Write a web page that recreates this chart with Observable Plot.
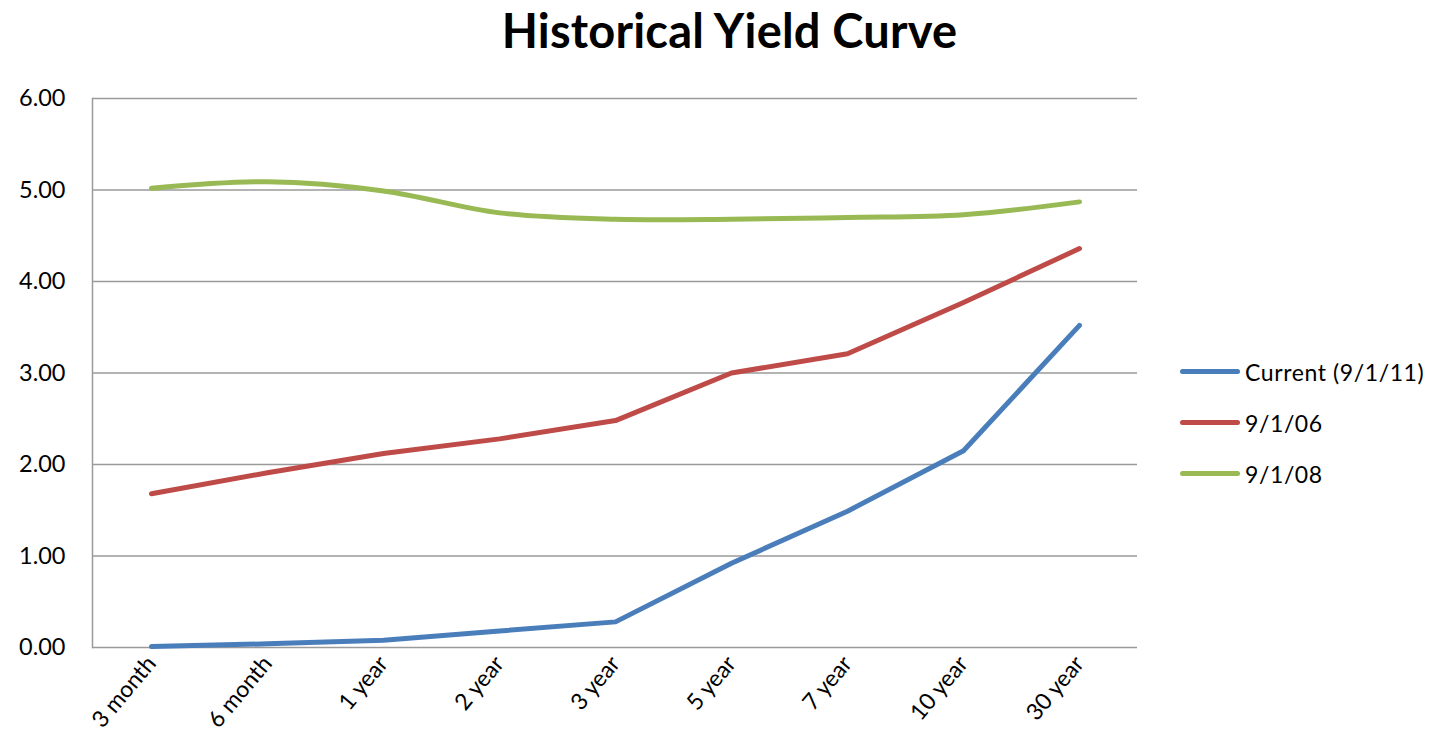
<!DOCTYPE html>
<html>
<head>
<meta charset="utf-8">
<script src="https://cdn.jsdelivr.net/npm/d3@7"></script>
<script src="https://cdn.jsdelivr.net/npm/@observablehq/plot@0.6"></script>
<style>
  body { margin: 0; background: #fff; font-family: Lato, "Open Sans", sans-serif; }
  #wrap { position: relative; width: 1449px; height: 755px; }
  #title { position: absolute; left: 0; top: 2px; width: 1459px; text-align: center; font-size: 47px; font-weight: bold; color: #000; letter-spacing: 0.2px; }
  #chart { position: absolute; left: 0; top: 70px; }
  #legend { position: absolute; left: 1180px; top: 346px; font-size: 23px; color: #000; letter-spacing: 0.6px; }
  .item { display: flex; align-items: center; height: 51px; }
  .sw { width: 60px; height: 5px; border-radius: 3px; margin-right: 5px; }
</style>
</head>
<body>
<div id="wrap">
  <div id="title">Historical Yield Curve</div>
  <div id="chart"></div>
  <div id="legend"></div>
</div>
<script>
const maturities = ["3 month", "6 month", "1 year", "2 year", "3 year", "5 year", "7 year", "10 year", "30 year"];
const seriesNames = ["Current (9/1/11)", "9/1/06", "9/1/08"];
const seriesColors = ["#4a7ebb", "#be4b48", "#98b954"];
const current2011 = [0.01, 0.04, 0.08, 0.18, 0.28, 0.92, 1.49, 2.15, 3.52];
const sep2006 = [1.68, 1.91, 2.12, 2.28, 2.48, 3.00, 3.21, 3.77, 4.36];
const sep2008 = [5.02, 5.09, 4.99, 4.75, 4.68, 4.68, 4.70, 4.73, 4.87];
const yTicks = [0, 1, 2, 3, 4, 5, 6];

const seriesValues = [current2011, sep2006, sep2008];
const rows = [];
seriesValues.forEach((vals, si) => vals.forEach((v, i) => rows.push({series: seriesNames[si], maturity: maturities[i], value: v})));

const chart = Plot.plot({
  width: 1449,
  height: 685,
  marginTop: 28,
  marginBottom: 108,
  marginLeft: 92,
  marginRight: 312,
  style: { fontFamily: "Lato, 'Open Sans', sans-serif", fontSize: "22px", color: "#000", background: "#fff" },
  x: { type: "point", domain: maturities, padding: 0.5, label: null },
  y: { domain: [0, 6], label: null },
  color: { domain: seriesNames, range: seriesColors },
  marks: [
    Plot.gridY(yTicks, { stroke: "#9a9a9a", strokeOpacity: 1, strokeWidth: 1.5 }),
    Plot.frame({ anchor: "left", stroke: "#9a9a9a", strokeWidth: 1.5 }),
    Plot.axisY({ ticks: yTicks, tickFormat: d => d.toFixed(2), tickSize: 0, tickPadding: 27, fontSize: 23.5, label: null }),
    Plot.axisX({ tickSize: 0, tickRotate: -50, tickPadding: 12, fontSize: 23, label: null }),
    Plot.line(rows.filter(d => d.series === seriesNames[0]), { x: "maturity", y: "value", stroke: "series", strokeWidth: 5 }),
    Plot.line(rows.filter(d => d.series === seriesNames[1]), { x: "maturity", y: "value", stroke: "series", strokeWidth: 5 }),
    Plot.line(rows.filter(d => d.series === seriesNames[2]), { x: "maturity", y: "value", stroke: "series", strokeWidth: 5, curve: "catmull-rom" })
  ]
});
document.getElementById("chart").appendChild(chart);

const legend = document.getElementById("legend");
seriesNames.forEach((n, i) => {
  const it = document.createElement("div");
  it.className = "item";
  it.innerHTML = `<div class="sw" style="background:${seriesColors[i]}"></div><span>${n}</span>`;
  legend.appendChild(it);
});
</script>
</body>
</html>
